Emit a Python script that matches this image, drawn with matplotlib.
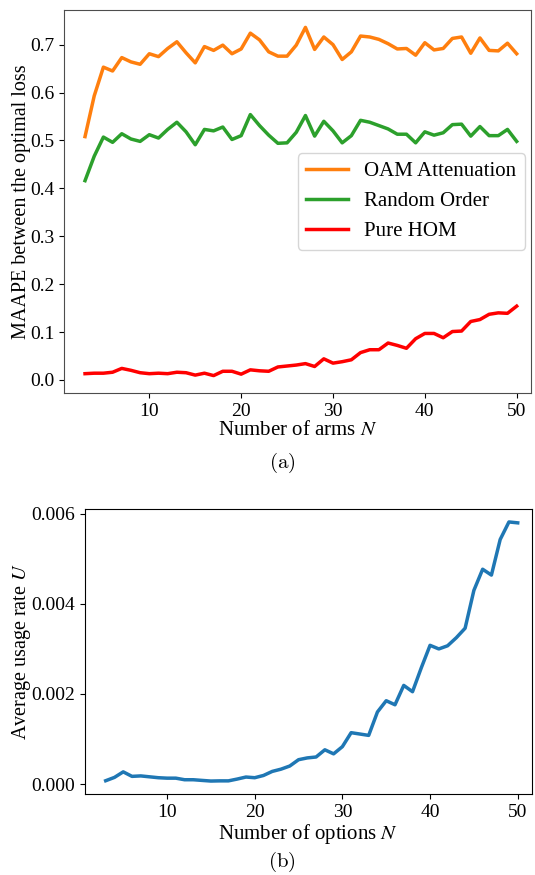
import matplotlib
matplotlib.use("Agg")
import matplotlib.pyplot as plt
import numpy as np

plt.rcParams['font.family'] = ['Liberation Serif', 'DejaVu Serif']
plt.rcParams['mathtext.fontset'] = 'stix'

# ---- data ----
N_arms = list(range(3, 51))
oam_attenuation = [0.508, 0.593, 0.653, 0.645, 0.673, 0.664, 0.659, 0.681, 0.675, 0.692,
                   0.706, 0.683, 0.662, 0.696, 0.688, 0.699, 0.681, 0.691, 0.724, 0.710,
                   0.685, 0.676, 0.676, 0.699, 0.736, 0.690, 0.716, 0.700, 0.669, 0.685,
                   0.718, 0.716, 0.711, 0.702, 0.691, 0.692, 0.678, 0.704, 0.689, 0.692,
                   0.713, 0.716, 0.682, 0.714, 0.688, 0.687, 0.703, 0.681]
random_order = [0.416, 0.467, 0.507, 0.496, 0.514, 0.503, 0.498, 0.512, 0.505, 0.523,
                0.538, 0.518, 0.491, 0.523, 0.520, 0.528, 0.502, 0.510, 0.554, 0.531,
                0.511, 0.494, 0.495, 0.517, 0.552, 0.509, 0.540, 0.520, 0.495, 0.510,
                0.542, 0.538, 0.531, 0.524, 0.513, 0.513, 0.495, 0.518, 0.511, 0.516,
                0.533, 0.534, 0.509, 0.529, 0.510, 0.510, 0.523, 0.498]
pure_hom = [0.013, 0.014, 0.014, 0.016, 0.024, 0.020, 0.015, 0.013, 0.014, 0.013,
            0.016, 0.015, 0.010, 0.014, 0.009, 0.018, 0.018, 0.012, 0.021, 0.019,
            0.018, 0.027, 0.029, 0.031, 0.034, 0.028, 0.044, 0.035, 0.038, 0.042,
            0.057, 0.063, 0.063, 0.077, 0.072, 0.066, 0.086, 0.097, 0.097, 0.088,
            0.101, 0.102, 0.122, 0.126, 0.137, 0.140, 0.139, 0.154]

N_options = list(range(3, 51))
usage_rate = [0.000073, 0.000147, 0.00027, 0.00017, 0.00018, 0.00016, 0.00014, 0.00013,
              0.00013, 0.000095, 0.000095, 0.00008, 0.000066, 0.00007, 0.00007, 0.00011,
              0.000155, 0.00014, 0.00019, 0.00028, 0.00033, 0.00040, 0.00054, 0.00058,
              0.00060, 0.00076, 0.00067, 0.00083, 0.00114, 0.00111, 0.00108, 0.00160,
              0.00185, 0.00176, 0.00219, 0.00205, 0.00258, 0.00308, 0.00300, 0.00307,
              0.00325, 0.00346, 0.00430, 0.00477, 0.00464, 0.00543, 0.00582, 0.00580]

series_labels = ["OAM Attenuation", "Random Order", "Pure HOM"]
series_colors = ["#ff7f0e", "#2ca02c", "#ff0000"]

W, H = 535, 875
fig = plt.figure(figsize=(W / 100, H / 100), dpi=100)

def px_axes(l, t, r, b):
    return fig.add_axes([l / W, 1 - b / H, (r - l) / W, (b - t) / H])

# ---- top panel ----
ax1 = px_axes(64, 10, 531, 393)
for ys, lab, col in zip([oam_attenuation, random_order, pure_hom], series_labels, series_colors):
    ax1.plot(N_arms, ys, color=col, lw=2.5, label=lab)
ax1.set_xlim(0.71, 51.56)
ax1.set_xticks([10, 20, 30, 40, 50])
ax1.set_yticks([0.0, 0.1, 0.2, 0.3, 0.4, 0.5, 0.6, 0.7])
ax1.tick_params(labelsize=14)
ax1.set_xlabel("Number of arms $N$", fontsize=15, labelpad=1)
ax1.set_ylabel("MAAPE between the optimal loss", fontsize=14.5, labelpad=-1)
for s in ax1.spines.values():
    s.set_color('0.3')
ax1.legend(loc='center right', fontsize=15, frameon=True, borderaxespad=0.3)

fig.text(282 / W, 1 - 463 / H, r"$\mathrm{(a)}$", ha='center', va='center',
         fontsize=15, math_fontfamily='cm')

# ---- bottom panel ----
ax2 = px_axes(85, 509, 532, 794)
ax2.plot(N_options, usage_rate, color="#1f77b4", lw=2.5)
ax2.set_xlim(0.64, 51.63)
ax2.set_xticks([10, 20, 30, 40, 50])
ax2.set_yticks([0.0, 0.002, 0.004, 0.006])
ax2.yaxis.set_major_formatter(matplotlib.ticker.FormatStrFormatter('%.3f'))
ax2.tick_params(labelsize=14)
ax2.set_xlabel("Number of options $N$", fontsize=15, labelpad=1)
ax2.set_ylabel("Average usage rate $U$", fontsize=14.5, labelpad=-1)

fig.text(282 / W, 1 - 862 / H, r"$\mathrm{(b)}$", ha='center', va='center',
         fontsize=15, math_fontfamily='cm')

fig.savefig("out.png", dpi=100)
